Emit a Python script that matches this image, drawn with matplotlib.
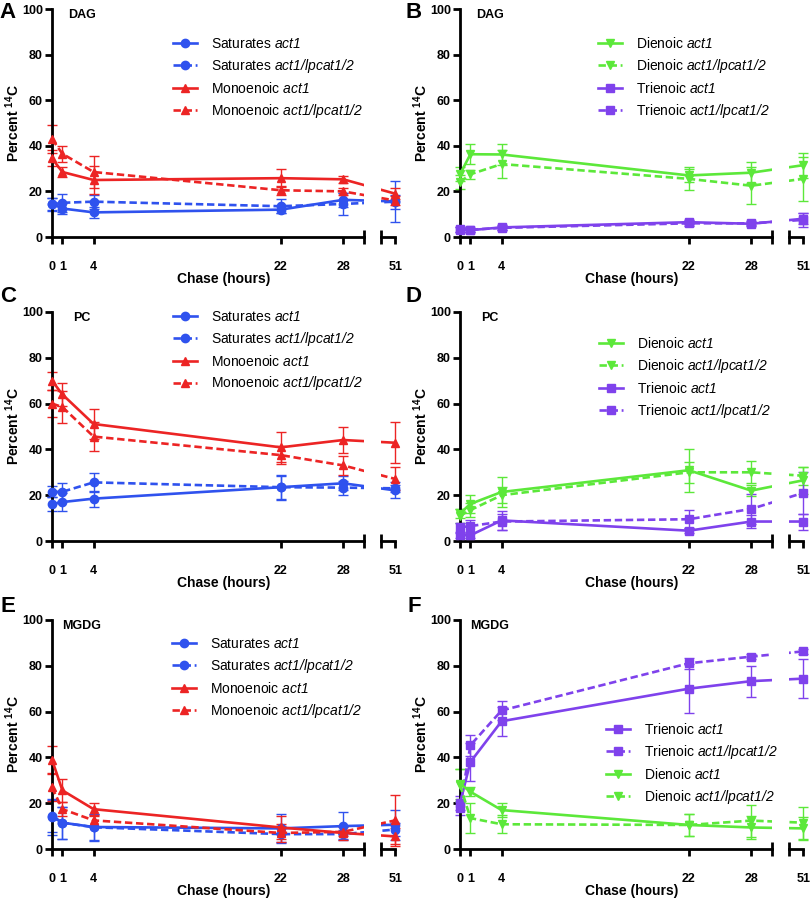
import numpy as np
import matplotlib
matplotlib.use("Agg")
import matplotlib.pyplot as plt

plt.rcParams["font.family"] = ["Liberation Sans", "DejaVu Sans"]
plt.rcParams["mathtext.fontset"] = "custom"
# math text is only used for the italic genotype names (digits included)
plt.rcParams["mathtext.rm"] = "Liberation Sans:italic"
plt.rcParams["mathtext.it"] = "Liberation Sans:italic"
plt.rcParams["mathtext.bf"] = "Liberation Sans:bold"

# chase time points (hours)
hours = [0, 1, 4, 22, 28, 51]

# A: DAG
dag_sat_act1 = [14.5, 12.5, 10.8, 12.0, 16.3, 15.6]
dag_sat_act1_err = [2.5, 2.5, 2.5, 1.5, 3.0, 9.0]
dag_sat_lp = [14.3, 15.0, 15.5, 13.5, 14.5, 15.5]
dag_sat_lp_err = [3.0, 4.0, 3.0, 3.0, 5.0, 3.0]
dag_mono_act1 = [34.5, 28.5, 25.0, 25.8, 25.3, 19.0]
dag_mono_act1_err = [3.5, 2.0, 6.0, 4.0, 1.5, 2.5]
dag_mono_lp = [43.0, 36.5, 28.5, 20.5, 20.0, 16.0]
dag_mono_lp_err = [6.0, 3.5, 7.0, 2.0, 1.5, 2.0]

# B: DAG
dag_di_act1 = [27.5, 36.3, 36.2, 27.0, 28.2, 31.5]
dag_di_act1_err = [3.0, 4.5, 4.5, 3.0, 4.5, 5.5]
dag_di_lp = [24.0, 27.5, 32.0, 25.5, 22.5, 25.5]
dag_di_lp_err = [3.0, 2.0, 6.0, 5.0, 8.0, 9.5]
dag_tri_act1 = [3.3, 3.0, 4.2, 6.5, 5.8, 8.0]
dag_tri_act1_err = [1.0, 1.0, 1.0, 1.0, 0.8, 2.5]
dag_tri_lp = [3.2, 3.2, 4.0, 6.0, 6.0, 7.5]
dag_tri_lp_err = [1.0, 0.8, 1.0, 1.0, 0.8, 3.0]

# C: PC
pc_sat_act1 = [16.0, 17.0, 18.5, 23.5, 25.2, 22.1]
pc_sat_act1_err = [3.0, 4.0, 3.5, 5.5, 3.0, 3.5]
pc_sat_lp = [21.5, 21.5, 25.6, 23.5, 23.3, 23.0]
pc_sat_lp_err = [2.5, 4.0, 4.0, 5.0, 3.0, 1.5]
pc_mono_act1 = [70.0, 64.0, 51.1, 40.9, 44.1, 42.9]
pc_mono_act1_err = [4.0, 5.0, 6.5, 6.5, 5.8, 9.0]
pc_mono_lp = [60.0, 58.5, 45.6, 37.5, 33.0, 27.1]
pc_mono_lp_err = [6.0, 7.0, 6.3, 4.0, 4.3, 5.0]

# D: PC
pc_di_act1 = [12.0, 16.2, 21.4, 30.9, 22.0, 26.5]
pc_di_act1_err = [2.0, 4.0, 6.5, 9.3, 2.5, 6.0]
pc_di_lp = [11.0, 13.5, 20.0, 30.0, 30.0, 28.5]
pc_di_lp_err = [3.0, 3.0, 3.5, 4.5, 4.8, 4.0]
pc_tri_act1 = [2.5, 2.5, 9.0, 4.5, 8.5, 8.5]
pc_tri_act1_err = [1.0, 1.0, 4.0, 1.2, 3.0, 3.5]
pc_tri_lp = [6.0, 6.5, 8.5, 9.5, 14.0, 21.0]
pc_tri_lp_err = [2.0, 2.5, 3.5, 4.0, 6.5, 9.0]

# E: MGDG
mg_sat_act1 = [14.5, 11.5, 9.6, 9.0, 10.0, 10.6]
mg_sat_act1_err = [7.0, 7.0, 5.5, 6.5, 6.0, 6.5]
mg_sat_lp = [14.0, 11.5, 9.5, 6.5, 6.5, 8.5]
mg_sat_lp_err = [8.0, 7.0, 6.0, 3.5, 2.0, 3.0]
mg_mono_act1 = [39.0, 25.6, 17.4, 9.4, 7.0, 5.5]
mg_mono_act1_err = [6.0, 5.0, 2.8, 5.0, 3.0, 3.5]
mg_mono_lp = [26.9, 17.4, 12.5, 7.0, 7.5, 12.5]
mg_mono_lp_err = [6.0, 3.0, 2.5, 4.0, 2.0, 11.0]

# F: MGDG
mg_tri_act1 = [20.0, 38.0, 55.8, 70.0, 73.3, 74.4]
mg_tri_act1_err = [3.0, 8.5, 6.3, 10.7, 6.8, 8.5]
mg_tri_lp = [17.7, 45.3, 60.5, 81.1, 84.0, 86.3]
mg_tri_lp_err = [3.0, 4.5, 4.0, 2.5, 1.0, 1.0]
mg_di_act1 = [28.5, 25.0, 17.0, 10.5, 9.4, 9.0]
mg_di_act1_err = [6.5, 2.0, 3.0, 5.0, 5.0, 5.0]
mg_di_lp = [28.0, 13.5, 10.8, 10.5, 12.4, 11.5]
mg_di_lp_err = [7.0, 6.5, 4.0, 5.0, 7.0, 7.0]

BLUE = "#2F52EE"
RED = "#EC2424"
GREEN = "#5CE83A"
PURPLE = "#7F42EC"
DASH = (0, (2.8, 1.4))

W, H = 812, 898
PX_PER_H = 10.4
BREAK_END = 30.0
SEG2_START = 31.6


def xpos(h):
    # broken x axis: everything after the break is shifted left
    h = np.asarray(h, float)
    return np.where(h <= BREAK_END, h, SEG2_START + (h - 49.6))


fig = plt.figure(figsize=(W / 100, H / 100), dpi=100)


def draw_panel(spine_x, ytop, ybot, letter, letter_xy, title, series, leg_xy):
    s = PX_PER_H

    def rect(x0, x1):
        return [(spine_x + x0 * s) / W, 1 - ybot / H, (x1 - x0) * s / W, (ybot - ytop) / H]

    axL = fig.add_axes(rect(-1.0, BREAK_END))
    axR = fig.add_axes(rect(SEG2_START, 33.7))
    axL.set_xlim(-1.0, BREAK_END)
    axR.set_xlim(SEG2_START, 33.7)
    for ax in (axL, axR):
        ax.set_ylim(0, 100)
        ax.patch.set_visible(False)
        ax.spines["top"].set_visible(False)
        ax.spines["right"].set_visible(False)
        ax.spines["bottom"].set_linewidth(2)
        ax.spines["left"].set_linewidth(2)

    xs = xpos(hours)
    handles, labels = [], []
    for label, vals, errs, color, marker, dashed in series:
        ms = 6.3 if marker in ("^", "v") else 6
        for ax in (axL, axR):
            ax.errorbar(xs, vals, yerr=errs, fmt="none", ecolor=color,
                        elinewidth=1.0, capsize=3.5, capthick=1.0, zorder=2)
            ln, = ax.plot(xs, vals, color=color, lw=1.9,
                          ls=DASH if dashed else "-", marker=marker, ms=ms, zorder=3)
        handles.append(ln)
        labels.append(label)

    # left segment
    axL.spines["left"].set_position(("data", 0))
    axL.spines["left"].set_bounds(0, 100)
    axL.spines["bottom"].set_bounds(0, BREAK_END)
    axL.set_yticks([0, 20, 40, 60, 80, 100])
    axL.set_xticks([0, 1, 4, 22, 28])
    axL.set_xticklabels(["0", "1", "4", "22", "28"])
    axL.set_xticks([BREAK_END], minor=True)
    axL.tick_params(axis="both", which="major", direction="out", length=5, width=2,
                    labelsize=9)
    axL.tick_params(axis="x", which="major", pad=12)
    axL.tick_params(axis="y", which="major", pad=1.5)
    axL.tick_params(axis="x", which="minor", direction="inout", length=10, width=2)
    for t in axL.get_xticklabels() + axL.get_yticklabels():
        t.set_fontweight("bold")

    # right segment
    axR.spines["left"].set_visible(False)
    axR.spines["bottom"].set_bounds(SEG2_START, float(xpos(51)))
    axR.tick_params(axis="y", left=False, labelleft=False)
    axR.set_xticks([float(xpos(51))])
    axR.set_xticklabels(["51"])
    axR.set_xticks([SEG2_START], minor=True)
    axR.tick_params(axis="x", which="major", direction="out", length=5, width=2,
                    labelsize=9, pad=12)
    axR.tick_params(axis="x", which="minor", direction="inout", length=10, width=2)
    for t in axR.get_xticklabels():
        t.set_fontweight("bold")

    axL.legend(handles, labels, loc="upper left",
               bbox_to_anchor=(leg_xy[0] / W, 1 - leg_xy[1] / H),
               bbox_transform=fig.transFigure, frameon=False, fontsize=10,
               handlelength=1.75, handletextpad=1.0, labelspacing=0.42,
               borderpad=0, borderaxespad=0)

    fig.text((spine_x + 30) / W, 1 - (ytop + 6) / H, title, fontsize=9,
             fontweight="bold", ha="center", va="center")
    fig.text((spine_x + 33.0 * s / 2) / W, 1 - (ybot + 42) / H, "Chase (hours)",
             fontsize=10, fontweight="bold", ha="center", va="center")
    fig.text((spine_x - 39) / W, 1 - (ytop + ybot) / 2 / H,
             r"Percent $^{\mathbf{14}}$C",
             fontsize=10, fontweight="bold", rotation=90, ha="center", va="center")
    fig.text(letter_xy[0] / W, 1 - letter_xy[1] / H, letter, fontsize=16,
             fontweight="bold", ha="center", va="center")


ACT = r"$\mathit{act1}$"
LP = r"$\mathit{act1/lpcat1/2}$"

draw_panel(52, 9, 237, "A", (8, 13), "DAG", [
    ("Saturates " + ACT, dag_sat_act1, dag_sat_act1_err, BLUE, "o", False),
    ("Saturates " + LP, dag_sat_lp, dag_sat_lp_err, BLUE, "o", True),
    ("Monoenoic " + ACT, dag_mono_act1, dag_mono_act1_err, RED, "^", False),
    ("Monoenoic " + LP, dag_mono_lp, dag_mono_lp_err, RED, "^", True),
], (173, 37))

draw_panel(460, 9, 237, "B", (414, 13), "DAG", [
    ("Dienoic " + ACT, dag_di_act1, dag_di_act1_err, GREEN, "v", False),
    ("Dienoic " + LP, dag_di_lp, dag_di_lp_err, GREEN, "v", True),
    ("Trienoic " + ACT, dag_tri_act1, dag_tri_act1_err, PURPLE, "s", False),
    ("Trienoic " + LP, dag_tri_lp, dag_tri_lp_err, PURPLE, "s", True),
], (598, 36))

draw_panel(52, 312, 541, "C", (8, 297), "PC", [
    ("Saturates " + ACT, pc_sat_act1, pc_sat_act1_err, BLUE, "o", False),
    ("Saturates " + LP, pc_sat_lp, pc_sat_lp_err, BLUE, "o", True),
    ("Monoenoic " + ACT, pc_mono_act1, pc_mono_act1_err, RED, "^", False),
    ("Monoenoic " + LP, pc_mono_lp, pc_mono_lp_err, RED, "^", True),
], (173, 310))

draw_panel(460, 312, 541, "D", (414, 297), "PC", [
    ("Dienoic " + ACT, pc_di_act1, pc_di_act1_err, GREEN, "v", False),
    ("Dienoic " + LP, pc_di_lp, pc_di_lp_err, GREEN, "v", True),
    ("Trienoic " + ACT, pc_tri_act1, pc_tri_act1_err, PURPLE, "s", False),
    ("Trienoic " + LP, pc_tri_lp, pc_tri_lp_err, PURPLE, "s", True),
], (599, 336))

draw_panel(52, 620, 849, "E", (8, 606), "MGDG", [
    ("Saturates " + ACT, mg_sat_act1, mg_sat_act1_err, BLUE, "o", False),
    ("Saturates " + LP, mg_sat_lp, mg_sat_lp_err, BLUE, "o", True),
    ("Monoenoic " + ACT, mg_mono_act1, mg_mono_act1_err, RED, "^", False),
    ("Monoenoic " + LP, mg_mono_lp, mg_mono_lp_err, RED, "^", True),
], (172, 637))

draw_panel(460, 620, 849, "F", (414, 606), "MGDG", [
    ("Trienoic " + ACT, mg_tri_act1, mg_tri_act1_err, PURPLE, "s", False),
    ("Trienoic " + LP, mg_tri_lp, mg_tri_lp_err, PURPLE, "s", True),
    ("Dienoic " + ACT, mg_di_act1, mg_di_act1_err, GREEN, "v", False),
    ("Dienoic " + LP, mg_di_lp, mg_di_lp_err, GREEN, "v", True),
], (606, 722))

fig.savefig("out.png", dpi=100)
